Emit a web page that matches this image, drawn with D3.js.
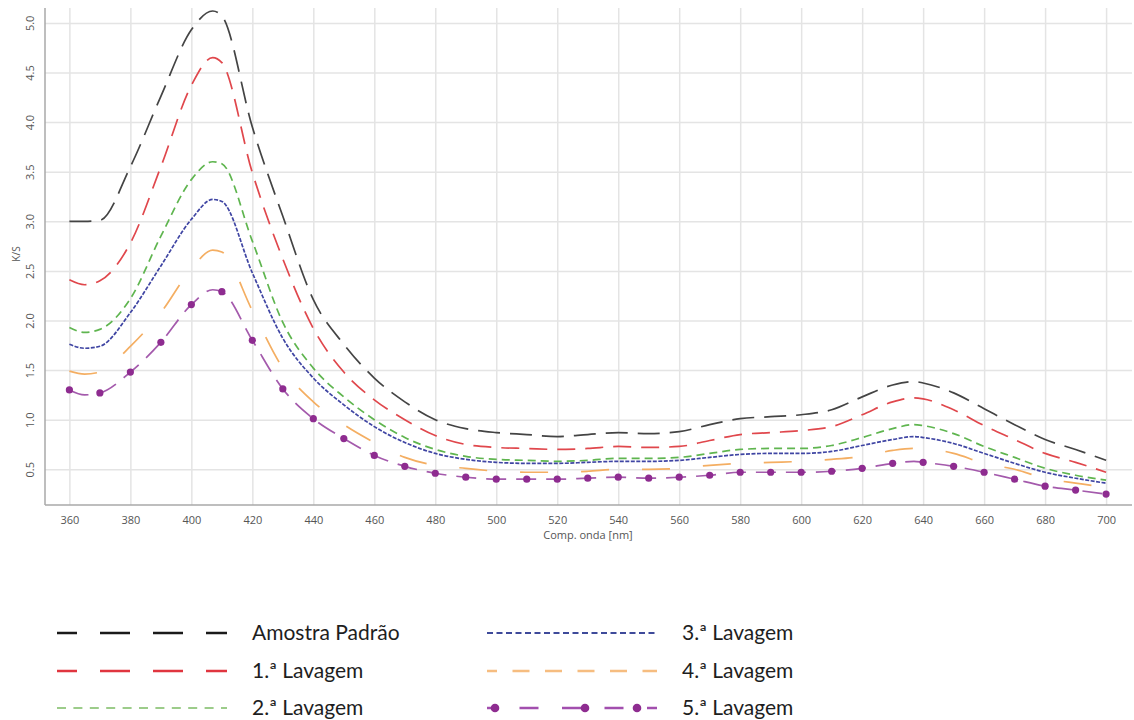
<!DOCTYPE html>
<html>
<head>
	<title>K/S</title>
	<script src="https://d3js.org/d3.v7.min.js" charset="utf-8"></script>
	<style>
		body { margin: 0; background: #fff; }
	</style>
</head>
<body>
	<svg width="1134" height="720"></svg>
	<script>
		// wavelengths (nm) and K/S
		var wavelength = [360,365,370,380,390,400,407,410,420,430,440,450,460,470,480,490,500,510,520,530,540,550,560,570,580,590,600,610,620,630,637,640,650,660,670,680,690,700];
		var amostra = [3.00,3.00,3.01,3.55,4.26,4.93,5.12,5.07,3.95,3.05,2.21,1.76,1.42,1.18,1.00,0.91,0.87,0.85,0.83,0.85,0.87,0.86,0.88,0.95,1.01,1.03,1.05,1.10,1.23,1.35,1.385,1.37,1.27,1.11,0.95,0.80,0.70,0.59];
		var lav1 = [2.41,2.36,2.40,2.78,3.55,4.37,4.65,4.60,3.49,2.62,1.92,1.48,1.20,1.00,0.84,0.75,0.72,0.71,0.70,0.71,0.73,0.72,0.73,0.79,0.85,0.87,0.89,0.93,1.05,1.18,1.22,1.21,1.10,0.94,0.80,0.66,0.57,0.47];
		var lav2 = [1.93,1.88,1.91,2.22,2.85,3.42,3.60,3.58,2.80,1.98,1.52,1.23,1.00,0.82,0.70,0.63,0.60,0.59,0.58,0.59,0.61,0.61,0.62,0.66,0.70,0.71,0.71,0.74,0.82,0.91,0.95,0.94,0.86,0.73,0.62,0.51,0.44,0.39];
		var lav3 = [1.76,1.72,1.74,2.08,2.55,3.02,3.22,3.20,2.48,1.82,1.42,1.15,0.93,0.77,0.66,0.60,0.57,0.56,0.56,0.57,0.58,0.58,0.59,0.62,0.65,0.66,0.66,0.68,0.74,0.80,0.83,0.82,0.76,0.66,0.56,0.47,0.41,0.36];
		var lav4 = [1.49,1.46,1.48,1.74,2.08,2.52,2.71,2.69,2.10,1.52,1.18,0.95,0.77,0.62,0.54,0.51,0.48,0.47,0.47,0.48,0.50,0.50,0.51,0.54,0.56,0.57,0.58,0.60,0.63,0.69,0.71,0.71,0.66,0.56,0.50,0.41,0.36,0.32];
		var lav5 = [1.30,1.25,1.27,1.48,1.78,2.16,2.31,2.29,1.80,1.31,1.01,0.81,0.64,0.53,0.46,0.42,0.40,0.40,0.40,0.41,0.42,0.41,0.42,0.44,0.47,0.47,0.47,0.48,0.51,0.56,0.58,0.57,0.53,0.47,0.40,0.33,0.29,0.25];

		var seriesNames = ['Amostra Padrão','1.ª Lavagem','2.ª Lavagem','3.ª Lavagem','4.ª Lavagem','5.ª Lavagem'];
		var xTicks = [360,380,400,420,440,460,480,500,520,540,560,580,600,620,640,660,680,700];
		var yTicks = [0.5,1.0,1.5,2.0,2.5,3.0,3.5,4.0,4.5,5.0];

		const plotLeft = 45, plotRight = 1132, plotTop = 8, plotBottom = 505;

		var svg = d3.select('svg');

		const x = d3.scaleLinear().domain([352, 708.5]).range([plotLeft, plotRight]);
		const y = d3.scaleLinear().domain([0.14, 5.15]).range([plotBottom, plotTop]);

		// grid
		svg.append('g')
			.attr('transform', `translate(0, ${plotBottom})`)
			.call(d3.axisBottom(x).tickValues(xTicks).tickSize(-(plotBottom - plotTop)).tickFormat(''))
			.call(g => g.select('.domain').remove())
			.call(g => g.selectAll('line').attr('stroke', '#e4e4e4').attr('stroke-width', 1.5));
		svg.append('g')
			.attr('transform', `translate(${plotLeft}, 0)`)
			.call(d3.axisLeft(y).tickValues(yTicks).tickSize(-(plotRight - plotLeft)).tickFormat(''))
			.call(g => g.select('.domain').remove())
			.call(g => g.selectAll('line').attr('stroke', '#e4e4e4').attr('stroke-width', 1.5));

		// axes
		const xAxis = svg.append('g')
			.attr('transform', `translate(0, ${plotBottom})`)
			.call(d3.axisBottom(x).tickValues(xTicks).tickSize(0).tickPadding(11));
		const yAxis = svg.append('g')
			.attr('transform', `translate(${plotLeft}, 0)`)
			.call(d3.axisLeft(y).tickValues(yTicks).tickSize(0).tickFormat(d3.format('.1f')));
		[xAxis, yAxis].forEach(function(g) {
			g.select('.domain').attr('stroke', '#a8a8a8').attr('stroke-width', 1.5);
			g.selectAll('text').attr('fill', '#555').style('font-family', '"Open Sans", sans-serif').style('font-size', '11px');
		});
		yAxis.selectAll('.tick text')
			.attr('x', null).attr('dy', null)
			.attr('text-anchor', 'middle')
			.attr('transform', 'translate(-11, 0) rotate(-90)');
		yAxis.select('.domain').attr('d', `M0,${plotTop}V${plotBottom}`);
		xAxis.select('.domain').attr('d', `M${plotLeft},0H${plotRight}`);

		svg.append('text')
			.attr('x', 588).attr('y', 539)
			.attr('text-anchor', 'middle')
			.attr('fill', '#555')
			.style('font-family', '"Open Sans", sans-serif').style('font-size', '11px')
			.text('Comp. onda [nm]');
		svg.append('text')
			.attr('transform', 'translate(20, 254) rotate(-90)')
			.attr('text-anchor', 'middle')
			.attr('fill', '#555')
			.style('font-family', '"Open Sans", sans-serif').style('font-size', '10px')
			.text('K/S');

		// series
		var styles = [
			{ data: amostra, color: '#444444', dash: '22,10' },
			{ data: lav1, color: '#e0474c', dash: '18,10' },
			{ data: lav2, color: '#5fb54f', dash: '8,5' },
			{ data: lav3, color: '#3f45a3', dash: '4,1.5' },
			{ data: lav4, color: '#f4ae62', dash: '28,33' },
			{ data: lav5, color: '#a45aac', dash: '20,10' }
		];

		const line = d3.line()
			.x(function(d, i) { return x(wavelength[i]); })
			.y(function(d) { return y(d); })
			.curve(d3.curveMonotoneX);

		styles.forEach(function(s) {
			svg.append('path')
				.datum(s.data)
				.attr('fill', 'none')
				.attr('stroke', s.color)
				.attr('stroke-width', 1.7)
				.attr('stroke-dasharray', s.dash)
				.attr('d', line);
		});

		svg.selectAll('circle.mk')
			.data(lav5.map(function(v, i) { return [wavelength[i], v]; }).filter(function(p) { return p[0] % 10 === 0; }))
			.enter()
			.append('circle')
			.attr('class', 'mk')
			.attr('cx', (p) => x(p[0]))
			.attr('cy', (p) => y(p[1]))
			.attr('r', 3.6)
			.attr('fill', '#8e2c90');

		// legend
		var legendPos = [
			{ x1: 57, x2: 227, tx: 252, y: 633, dash: '30,23', off: 10, w: 2.4 },
			{ x1: 57, x2: 227, tx: 252, y: 671, dash: '30,23', off: 10, w: 2.4 },
			{ x1: 57, x2: 227, tx: 252, y: 708, dash: '9,7.4', off: 0, w: 2 },
			{ x1: 487, x2: 657, tx: 682, y: 633, dash: '6,3.5', off: 0, w: 2 },
			{ x1: 487, x2: 657, tx: 682, y: 671, dash: '17,15.5', off: 7, w: 2.4 },
			{ x1: 487, x2: 657, tx: 682, y: 708, dash: '19,23.5', off: 10, w: 2.4 }
		];
		var legendColors = ['#1a1a1a', '#e0353f', '#9ccc8a', '#3e4a9a', '#f6bd80', '#a24fae'];

		var leg = svg.append('g');
		seriesNames.forEach(function(name, i) {
			var p = legendPos[i];
			leg.append('line')
				.attr('x1', p.x1).attr('x2', p.x2)
				.attr('y1', p.y).attr('y2', p.y)
				.attr('stroke', legendColors[i])
				.attr('stroke-width', p.w)
				.attr('stroke-dasharray', p.dash)
				.attr('stroke-dashoffset', p.off);
			leg.append('text')
				.attr('x', p.tx).attr('y', p.y)
				.attr('dy', '0.35em')
				.attr('fill', '#1e1e1e')
				.style('font-family', 'Lato, sans-serif')
				.style('font-size', '21px')
				.text(name);
		});
		[495, 585, 637].forEach(function(cx) {
			leg.append('circle')
				.attr('cx', cx).attr('cy', 708)
				.attr('r', 4.3)
				.attr('fill', '#8e2c90');
		});
	</script>
</body>
</html>
